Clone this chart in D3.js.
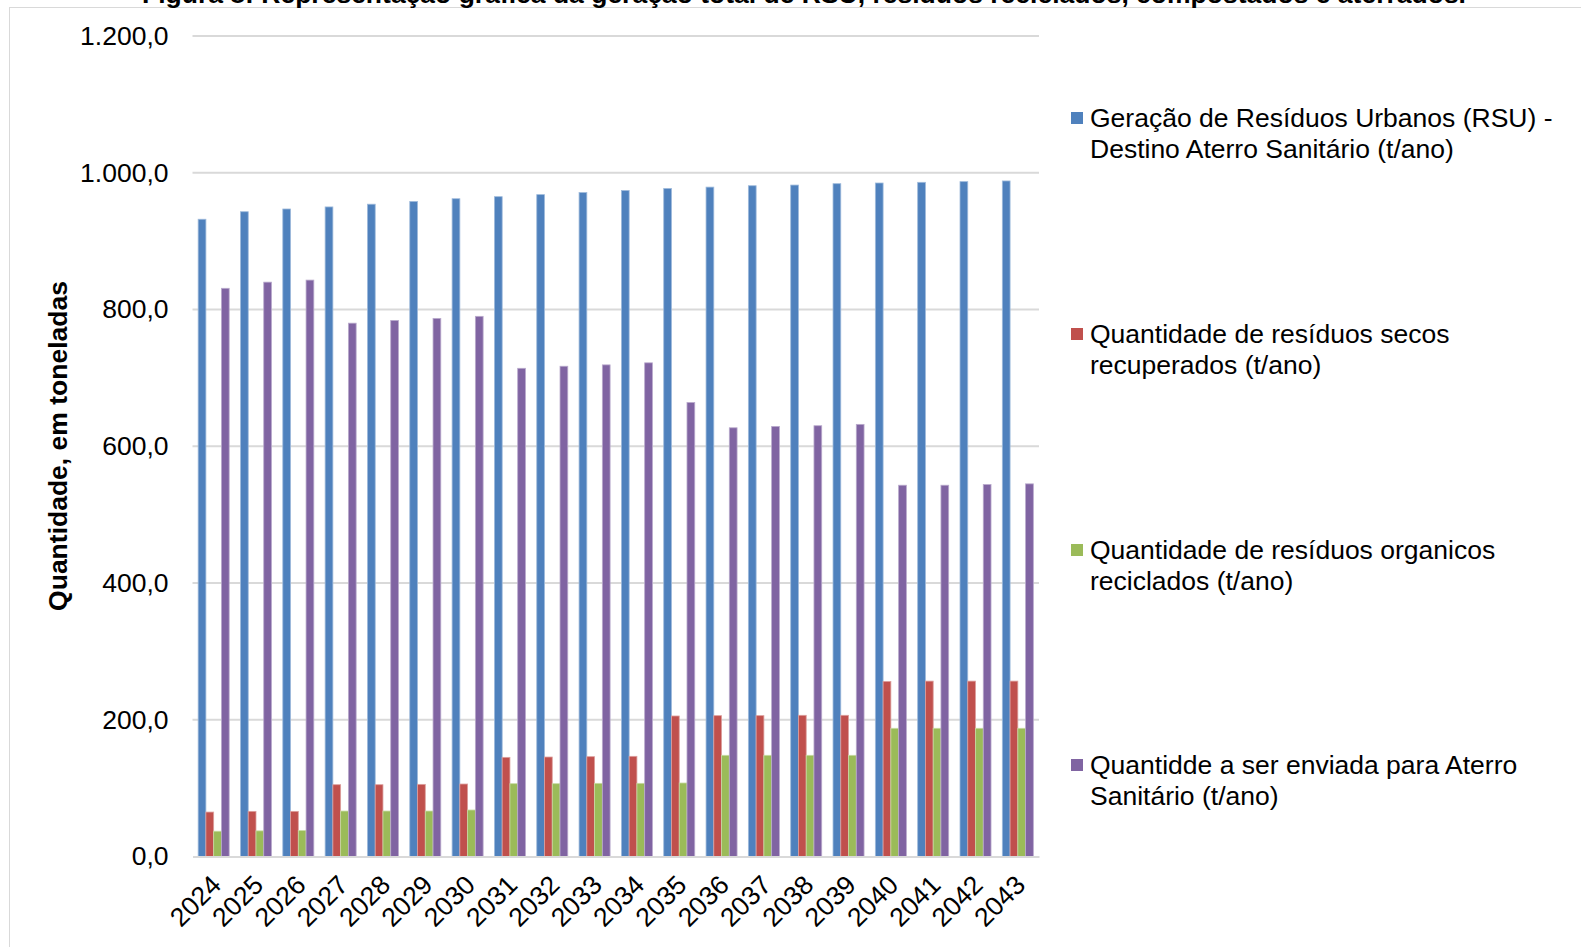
<!DOCTYPE html>
<html>
<head>
<meta charset="utf-8">
<script src="https://cdn.jsdelivr.net/npm/d3@7"></script>
<style>
  html, body { margin: 0; padding: 0; background: #fff; }
  svg { display: block; font-family: "Liberation Sans", Arial, sans-serif; }
</style>
</head>
<body>
<svg id="chart" width="1581" height="947"></svg>
<script>
// Anos do horizonte de planejamento
const years = ["2024","2025","2026","2027","2028","2029","2030","2031","2032","2033",
               "2034","2035","2036","2037","2038","2039","2040","2041","2042","2043"];

// Geração de RSU (t/ano)
const geracao = [932, 943, 947, 950, 954, 958, 962, 965, 968, 971,
                 974, 977, 979, 981, 982, 984, 985, 986, 987, 988];
// Resíduos secos recuperados (t/ano)
const secos = [65, 66, 66, 105, 105, 105.5, 106, 145, 145.5, 146,
               146.5, 205.5, 206, 206, 206.5, 206.5, 256, 256.5, 256.5, 256.5];
// Resíduos orgânicos reciclados (t/ano)
const organicos = [37, 37.5, 38, 66.5, 66.5, 66.5, 68, 106.5, 106.5, 107,
                   107, 107.5, 148, 148, 148, 148, 187.5, 187.5, 187.5, 187.5];
// Quantidade enviada ao aterro (t/ano)
const aterro = [831, 840, 843, 780, 784, 787, 790, 714, 717, 719,
                722, 664, 627, 629, 630, 632, 543, 543, 544, 545];

const seriesNames = [
  ["Geração de Resíduos Urbanos (RSU) -", "Destino Aterro Sanitário (t/ano)"],
  ["Quantidade de resíduos secos", "recuperados (t/ano)"],
  ["Quantidade de resíduos organicos", "reciclados (t/ano)"],
  ["Quantidde a ser enviada para Aterro", "Sanitário (t/ano)"]
];
const seriesColors = ["#4F81BD", "#C0504D", "#9BBB59", "#8064A2"];
const seriesValues = [geracao, secos, organicos, aterro];

const yTicks = [0, 200, 400, 600, 800, 1000, 1200];
const yTitle = "Quantidade, em toneladas";
const caption = "Figura 8: Representação gráfica da geração total de RSU, resíduos reciclados, compostados e aterrados.";

const svg = d3.select("#chart");
const plot = { left: 192.5, right: 1039, top: 36, bottom: 856.5 };
const fontSize = 26.5;

// Moldura do gráfico
svg.append("rect")
  .attr("x", 9.5).attr("y", 7.5)
  .attr("width", 1600).attr("height", 1000)
  .attr("fill", "none").attr("stroke", "#d9d9d9").attr("stroke-width", 1);

// Legenda da figura (parcialmente acima da área visível)
svg.append("text")
  .attr("x", 804).attr("y", 3)
  .attr("text-anchor", "middle")
  .attr("font-weight", "bold").attr("font-size", 26.5)
  .attr("fill", "#000")
  .text(caption);

const x = d3.scaleBand()
  .domain(years)
  .range([plot.left, plot.right])
  .paddingInner(0.267).paddingOuter(0.1335);

const xs = d3.scaleBand()
  .domain(d3.range(seriesValues.length))
  .range([0, x.bandwidth()]);

const y = d3.scaleLinear().domain([0, 1200]).range([plot.bottom, plot.top]);

// Linhas de grade
svg.append("g")
  .selectAll("line")
  .data(yTicks.filter(d => d > 0))
  .join("line")
  .attr("x1", plot.left).attr("x2", plot.right)
  .attr("y1", d => y(d)).attr("y2", d => y(d))
  .attr("stroke", "#d9d9d9").attr("stroke-width", 2);

// Barras
const groups = svg.append("g")
  .selectAll("g")
  .data(seriesValues)
  .join("g")
  .attr("fill", (d, i) => seriesColors[i])
  .attr("stroke", (d, i) => d3.interpolateRgb(seriesColors[i], "#fff")(0.45))
  .attr("stroke-width", 0.8);

groups.selectAll("rect")
  .data((vals, si) => vals.map((v, k) => ({ v, k, si })))
  .join("rect")
  .attr("x", d => x(years[d.k]) + xs(d.si))
  .attr("width", xs.bandwidth())
  .attr("y", d => y(d.v))
  .attr("height", d => y(0) - y(d.v));

// Eixo X
const xAxis = svg.append("g")
  .attr("transform", `translate(0,${plot.bottom})`)
  .call(d3.axisBottom(x).tickSize(0).tickPadding(0));
xAxis.select(".domain").attr("stroke", "#d9d9d9").attr("stroke-width", 2);
xAxis.selectAll("text")
  .attr("font-size", fontSize)
  .attr("fill", "#000")
  .attr("text-anchor", "end")
  .attr("dy", null).attr("y", 0)
  .attr("transform", "translate(9,30) rotate(-45)");

// Eixo Y
const yAxis = svg.append("g")
  .attr("transform", `translate(${plot.left},0)`)
  .call(d3.axisLeft(y).tickValues(yTicks).tickSize(0).tickPadding(24)
    .tickFormat(d => d3.format(",.1f")(d).replace(/,/g, "#").replace(".", ",").replace(/#/g, ".")));
yAxis.select(".domain").remove();
yAxis.selectAll("text").attr("font-size", fontSize).attr("fill", "#000");

// Título do eixo Y
svg.append("text")
  .attr("transform", `translate(67,446) rotate(-90)`)
  .attr("text-anchor", "middle")
  .attr("font-weight", "bold").attr("font-size", fontSize)
  .attr("fill", "#000")
  .text(yTitle);

// Legenda das séries
const legendY = [118, 334, 550, 765];
const legend = svg.append("g")
  .selectAll("g")
  .data(seriesNames)
  .join("g")
  .attr("transform", (d, i) => `translate(1071,${legendY[i]})`);

legend.append("rect")
  .attr("x", 0).attr("y", -6)
  .attr("width", 12).attr("height", 12)
  .attr("fill", (d, i) => seriesColors[i]);

legend.append("text")
  .attr("x", 19).attr("y", 9)
  .attr("font-size", fontSize).attr("fill", "#000")
  .selectAll("tspan")
  .data(d => d)
  .join("tspan")
  .attr("x", 19)
  .attr("dy", (d, j) => j === 0 ? 0 : 31)
  .text(d => d);
</script>
</body>
</html>
